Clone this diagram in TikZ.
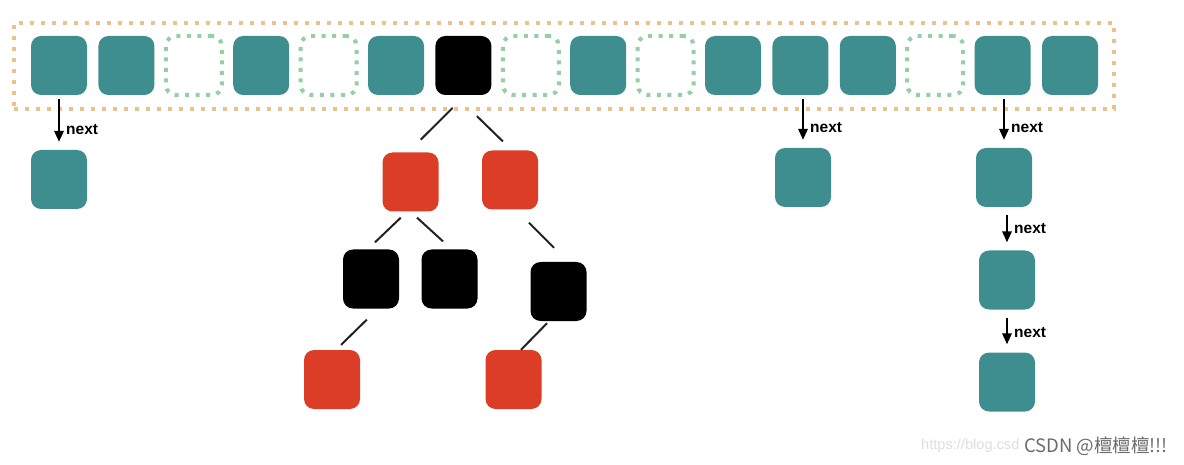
\documentclass[tikz,border=0pt]{standalone}
\usepackage{fontspec}
\setmainfont{Liberation Sans}
\newfontfamily\cjk{Noto Sans CJK SC}
\usetikzlibrary{arrows.meta,calc}
\definecolor{tealc}{HTML}{3E8E8F}
\definecolor{redc}{HTML}{DC3D26}
\definecolor{greenc}{HTML}{95CFA3}
\definecolor{orangec}{HTML}{EBC28B}
\definecolor{edgec}{HTML}{222222}
\tikzset{
  box/.style={rounded corners=10pt, minimum width=56pt, minimum height=59pt, inner sep=0pt, draw=none},
  T/.style={box, fill=tealc},
  R/.style={box, fill=redc},
  B/.style={box, fill=black},
  E/.style={box, draw=greenc, line width=4pt, dash pattern=on 4pt off 6.5pt, minimum width=56pt, minimum height=59pt},
  container/.style={draw=orangec, line width=4.3pt, dash pattern=on 4.3pt off 6.7pt, minimum width=1100pt, minimum height=86pt, inner sep=0pt},
  treeedge/.style={draw=edgec, line width=2pt},
  nextarrow/.style={draw=black, line width=1.8pt, -{Triangle[length=11pt,width=9.5pt]}},
  nextlbl/.style={anchor=west, inner sep=0pt, font=\bfseries\fontsize{15.5}{17}\selectfont},
}
\begin{document}
\begin{tikzpicture}[x=1pt,y=-1pt]
\useasboundingbox (0,0) rectangle (1184,465);
% container
\node[container] (hash) at (564,66) {};
% top row
\foreach \t [count=\i from 0] in {T,T,E,T,E,T,B,E,T,E,T,T,T,E,T,T}{
  \node[\t] (c\i) at ({59+67.4*\i},65.5) {};
}
% chained lists
\node[T] (n0) at (59,179.5) {};
\node[T] (n11) at (803,177.5) {};
\node[T] (n14a) at (1004,177.5) {};
\node[T] (n14b) at (1007,280) {};
\node[T] (n14c) at (1007,382) {};

\draw[nextarrow, shorten <=4pt, shorten >=8pt] (c0.south -| n0.north) -- (n0.north);
\node[nextlbl] at ([xshift=7pt]$(c0.south -| n0.north)!0.63!(n0.north)$) {next};
\draw[nextarrow, shorten <=4pt, shorten >=8pt] (c11.south -| n11.north) -- (n11.north);
\node[nextlbl] at ([xshift=7pt]$(c11.south -| n11.north)!0.61!(n11.north)$) {next};
\draw[nextarrow, shorten <=4pt, shorten >=8pt] (c14.south -| n14a.north) -- (n14a.north);
\node[nextlbl] at ([xshift=7pt]$(c14.south -| n14a.north)!0.61!(n14a.north)$) {next};
\draw[nextarrow, shorten <=8pt, shorten >=8pt] (n14a.south -| n14b.north) -- (n14b.north);
\node[nextlbl] at ([xshift=7pt]$(n14a.south -| n14b.north)!0.5!(n14b.north)$) {next};
\draw[nextarrow, shorten <=8pt, shorten >=8pt] (n14b.south) -- (n14c.north);
\node[nextlbl] at ([xshift=7pt]$(n14b.south)!0.53!(n14c.north)$) {next};

% red-black tree
\node[R] (r1) at (410.5,182) {};
\node[R] (r2) at (510,180) {};
\node[B] (b1) at (371,279) {};
\node[B] (b2) at (449.5,279) {};
\node[B] (b3) at (558.5,291.5) {};
\node[R] (r3) at (332,379.5) {};
\node[R] (r4) at (513.5,379.5) {};

\draw[treeedge, shorten <=18pt, shorten >=18pt] ([xshift=2pt]c6.south) -- ([xshift=-2.5pt]r1.north);
\draw[treeedge, shorten <=30pt, shorten >=12.7pt] ([xshift=-8pt]c6.south) -- ([xshift=2pt]r2.north);
\draw[treeedge, shorten <=8.6pt, shorten >=10.1pt] ([xshift=-3.5pt]r1.south) -- ([xshift=-3.3pt]b1.north);
\draw[treeedge, shorten <=8.8pt, shorten >=11.8pt] (r1.south) -- ([xshift=2.2pt]b2.north);
\draw[treeedge, shorten <=18.4pt, shorten >=19.8pt] ([xshift=6pt]r2.south) -- ([xshift=9.5pt]b3.north);
\draw[treeedge, shorten <=15.6pt, shorten >=7.1pt] ([xshift=7pt]b1.south) -- ([xshift=4pt]r3.north);
\draw[treeedge, shorten <=2.8pt] ([xshift=-9.5pt]b3.south) -- ([xshift=7.5pt]r4.north);

% watermark
\node[anchor=west, inner sep=0pt, text=black!13, font=\fontsize{14.6}{16}\selectfont] (url) at (921,446) {https://blog.csd};
\node[anchor=east, inner sep=0pt, text=black!58, font=\cjk\fontsize{18.5}{20}\selectfont] (wm) at (1168,446) {CSDN @檀檀檀!!!};
\end{tikzpicture}
\end{document}
